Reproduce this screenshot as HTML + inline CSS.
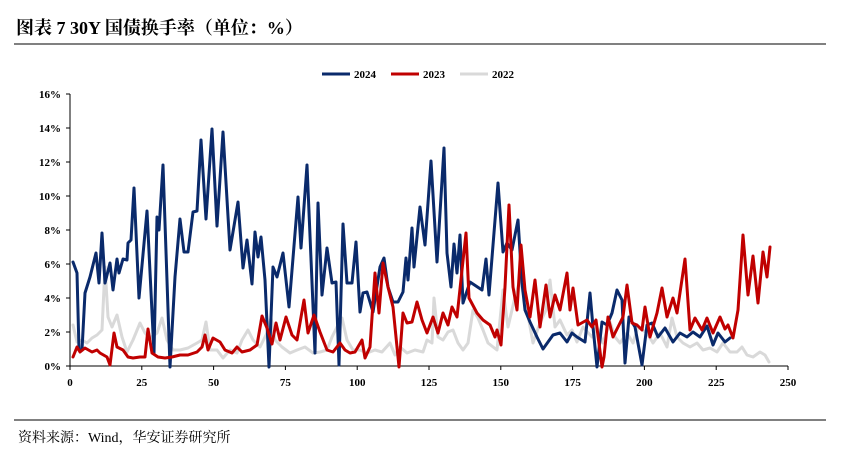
<!DOCTYPE html>
<html><head><meta charset="utf-8"><style>
body{margin:0;background:#fff;width:853px;height:464px;overflow:hidden;}
</style></head><body>
<svg width="853" height="464" xmlns="http://www.w3.org/2000/svg" style="position:absolute;left:0;top:0">
<text x="16" y="34" font-family="Liberation Serif, Noto Serif CJK SC, serif" font-size="18" font-weight="bold" fill="#000">图表 7 30Y 国债换手率（单位：%）</text>
<line x1="14" y1="44" x2="826" y2="44" stroke="#000" stroke-width="1"/>
<line x1="14" y1="420" x2="826" y2="420" stroke="#000" stroke-width="1"/>
<text x="18" y="442" font-family="Liberation Serif, Noto Serif CJK SC, serif" font-size="14" fill="#000">资料来源：Wind，华安证券研究所</text>
<g font-family="Liberation Serif, serif" font-size="11" font-weight="bold" fill="#000">
<line x1="322" y1="74" x2="350" y2="74" stroke="#0a2a6b" stroke-width="3"/><text x="354" y="78">2024</text>
<line x1="391" y1="74" x2="419" y2="74" stroke="#c00000" stroke-width="3"/><text x="423" y="78">2023</text>
<line x1="460" y1="74" x2="488" y2="74" stroke="#d9d9d9" stroke-width="3"/><text x="492" y="78">2022</text>
</g>
<g stroke="#000" stroke-width="1">
<line x1="70" y1="94" x2="70" y2="366"/>
<line x1="70" y1="366" x2="788" y2="366"/>
<line x1="66" y1="366" x2="70" y2="366"/><line x1="66" y1="332" x2="70" y2="332"/><line x1="66" y1="298" x2="70" y2="298"/><line x1="66" y1="264" x2="70" y2="264"/><line x1="66" y1="230" x2="70" y2="230"/><line x1="66" y1="196" x2="70" y2="196"/><line x1="66" y1="162" x2="70" y2="162"/><line x1="66" y1="128" x2="70" y2="128"/><line x1="66" y1="94" x2="70" y2="94"/>
<line x1="70" y1="366" x2="70" y2="370"/><line x1="141.8" y1="366" x2="141.8" y2="370"/><line x1="213.6" y1="366" x2="213.6" y2="370"/><line x1="285.4" y1="366" x2="285.4" y2="370"/><line x1="357.2" y1="366" x2="357.2" y2="370"/><line x1="429" y1="366" x2="429" y2="370"/><line x1="500.8" y1="366" x2="500.8" y2="370"/><line x1="572.6" y1="366" x2="572.6" y2="370"/><line x1="644.4" y1="366" x2="644.4" y2="370"/><line x1="716.2" y1="366" x2="716.2" y2="370"/><line x1="788" y1="366" x2="788" y2="370"/>
</g>
<g font-family="Liberation Serif, serif" font-size="11" font-weight="bold" fill="#000" text-anchor="end">
<text x="61" y="370">0%</text><text x="61" y="336">2%</text><text x="61" y="302">4%</text><text x="61" y="268">6%</text><text x="61" y="234">8%</text><text x="61" y="200">10%</text><text x="61" y="166">12%</text><text x="61" y="132">14%</text><text x="61" y="98">16%</text>
</g>
<g font-family="Liberation Serif, serif" font-size="11" font-weight="bold" fill="#000" text-anchor="middle">
<text x="70" y="386">0</text><text x="141.8" y="386">25</text><text x="213.6" y="386">50</text><text x="285.4" y="386">75</text><text x="357.2" y="386">100</text><text x="429" y="386">125</text><text x="500.8" y="386">150</text><text x="572.6" y="386">175</text><text x="644.4" y="386">200</text><text x="716.2" y="386">225</text><text x="788" y="386">250</text>
</g>
<g fill="none" stroke-width="3" stroke-linejoin="round" stroke-linecap="round">
<polyline stroke="#d9d9d9" points="73,325 77,342 82,340 87,343 92,338 97,335 102,330 105,267 108,317 112,327 117,315 122,337 127,352 133,340 140,323 145,333 150,338 157,333 162,318 167,340 173,350 180,350 188,348 197,343 202,340 206,322 210,350 217,350 223,358 230,350 237,353 242,340 248,330 253,340 260,347 267,333 271,318 275,340 282,347 290,353 297,350 305,347 313,353 320,352 327,350 332,337 337,327 342,318 347,340 353,350 360,350 367,353 375,350 382,352 390,343 395,355 400,347 407,353 415,350 423,352 427,340 432,343 434,298 438,337 443,340 448,332 453,330 458,343 463,350 468,343 473,310 478,318 483,330 488,343 497,350 503,290 508,327 515,297 520,280 527,310 533,343 540,323 546,310 550,280 555,327 560,320 567,335 572,330 577,342 583,327 592,337 597,327 603,343 610,322 615,337 620,343 627,333 633,343 638,327 647,333 653,343 660,333 667,347 672,318 677,337 683,343 690,347 697,343 703,350 710,348 717,352 723,343 730,352 737,352 742,347 747,355 753,357 760,352 765,355 769,362"/>
<polyline stroke="#0a2a6b" points="73,262 77,273 79,350 82,350 85,293 90,277 96,253 99,283 102,233 105,283 110,263 113,290 117,259 119,273 123,259 127,260 128,243 131,240 134,188 139,298 147,211 154,353 157,217 159,230 163,165 170,367 175,277 180,219 184,252 188,252 193,212 197,211 201,140 206,219 212,129 217,226 223,132 230,250 238,202 243,268 247,240 252,284 255,232 258,257 261,237 265,280 269,367 273,267 277,277 283,253 289,307 298,197 301,248 307,165 315,353 318,203 322,295 327,248 332,283 336,282 339,365 343,224 347,283 352,283 356,242 360,312 363,293 367,292 373,312 380,267 384,258 388,287 393,302 398,302 403,292 406,258 408,280 412,228 414,267 420,207 425,245 431,161 437,262 444,148 447,253 451,287 454,244 457,273 460,235 463,303 470,282 482,290 486,259 489,295 498,183 503,252 507,243 512,250 518,220 522,283 525,310 530,322 537,337 543,349 548,342 553,335 560,333 567,342 572,333 577,337 585,342 590,293 593,327 597,367 602,322 607,325 612,313 617,290 622,300 625,363 629,317 635,327 642,365 647,325 652,323 658,337 665,328 673,342 680,333 687,337 693,332 700,337 707,326 713,345 718,333 725,342 730,338"/>
<polyline stroke="#c00000" points="73,357 77,347 80,352 85,348 92,352 97,350 100,353 107,357 110,365 114,333 117,347 123,350 128,357 133,358 140,357 145,357 148,329 152,353 158,357 165,358 172,357 180,355 188,355 197,352 202,347 205,335 208,350 213,338 220,342 225,350 232,353 237,347 242,352 250,350 257,345 262,316 267,328 272,344 276,323 280,340 286,317 292,335 297,340 304,300 308,333 314,315 320,332 327,350 333,352 340,343 345,350 350,353 355,352 362,340 365,358 370,347 375,273 379,313 383,263 388,287 393,307 399,367 403,313 407,323 412,322 417,302 422,320 427,333 433,317 438,333 443,313 448,325 452,307 457,317 462,270 466,233 469,298 477,313 483,320 490,325 495,337 497,330 501,345 505,287 509,205 513,287 517,310 521,245 525,290 530,317 535,280 540,327 546,285 550,317 555,295 560,310 567,273 570,310 573,288 578,325 587,320 592,327 596,320 602,367 604,357 608,317 613,337 618,327 623,317 627,285 632,323 637,325 642,330 645,307 650,337 657,313 662,288 667,317 673,298 677,313 685,259 690,330 695,318 702,330 707,318 713,333 720,317 725,329 728,325 733,338 738,310 743,235 748,295 753,256 758,303 763,252 767,277 770,247"/>
</g>
</svg>
</body></html>
